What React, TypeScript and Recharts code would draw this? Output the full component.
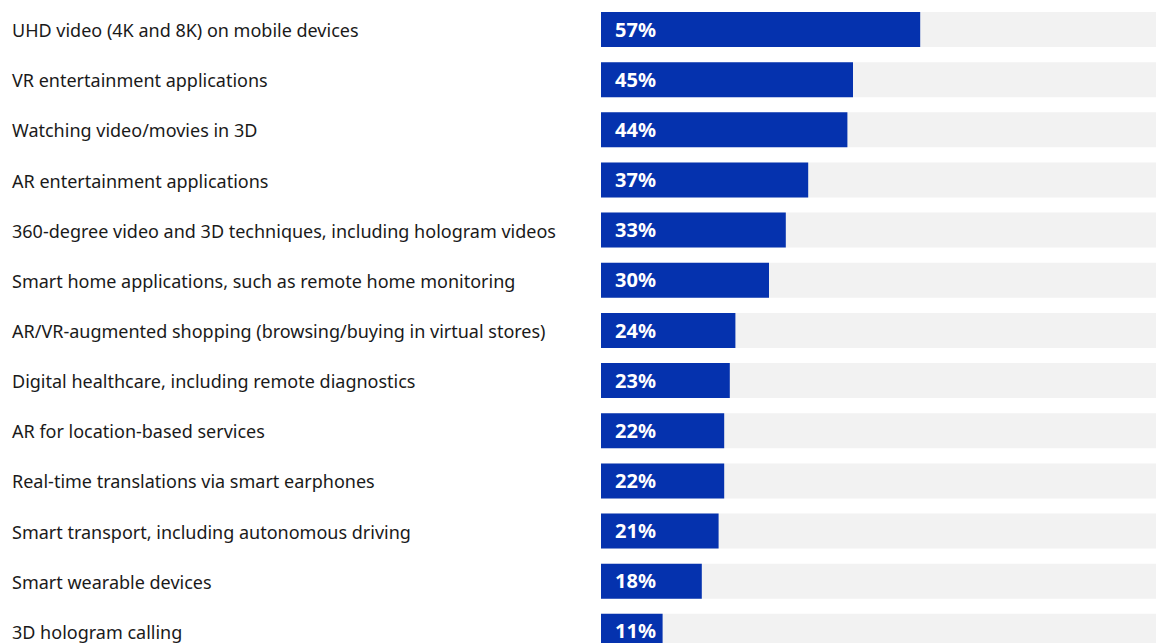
import React from "react";
import { BarChart, Bar, XAxis, YAxis, LabelList } from "recharts";

const categories = [
  "UHD video (4K and 8K) on mobile devices",
  "VR entertainment applications",
  "Watching video/movies in 3D",
  "AR entertainment applications",
  "360-degree video and 3D techniques, including hologram videos",
  "Smart home applications, such as remote home monitoring",
  "AR/VR-augmented shopping (browsing/buying in virtual stores)",
  "Digital healthcare, including remote diagnostics",
  "AR for location-based services",
  "Real-time translations via smart earphones",
  "Smart transport, including autonomous driving",
  "Smart wearable devices",
  "3D hologram calling",
];
const values = [57, 45, 44, 37, 33, 30, 24, 23, 22, 22, 21, 18, 11];

const data = categories.map((name, i) => ({ name, value: values[i] }));

const FONT = "'Noto Sans', sans-serif";

const CategoryTick = (props: any) => {
  const { y, payload } = props;
  return (
    <text x={12} y={y} dy={8} textAnchor="start" fill="#1a1a1a" fontSize={18} fontFamily={FONT}>
      {payload.value}
    </text>
  );
};

export default function App() {
  return (
    <div style={{ position: "absolute", left: 0, top: 0, width: 1156, height: 643, overflow: "hidden", background: "#fff" }}>
      <BarChart
        width={1161}
        height={661}
        data={data}
        layout="vertical"
        margin={{ top: 4, right: 0, bottom: 5, left: 0 }}
        barSize={35}
      >
        <XAxis type="number" domain={[0, 100]} hide />
        <YAxis
          type="category"
          dataKey="name"
          width={601}
          axisLine={false}
          tickLine={false}
          tick={<CategoryTick />}
          interval={0}
        />
        <Bar dataKey="value" fill="#0532AE" background={{ fill: "#f2f2f2" }} isAnimationActive={false}>
          <LabelList
            dataKey="value"
            position="insideLeft"
            offset={14}
            formatter={(v: any) => `${v}%`}
            fill="#ffffff"
            fontSize={20}
            fontWeight={700}
            fontFamily={FONT}
          />
        </Bar>
      </BarChart>
    </div>
  );
}
